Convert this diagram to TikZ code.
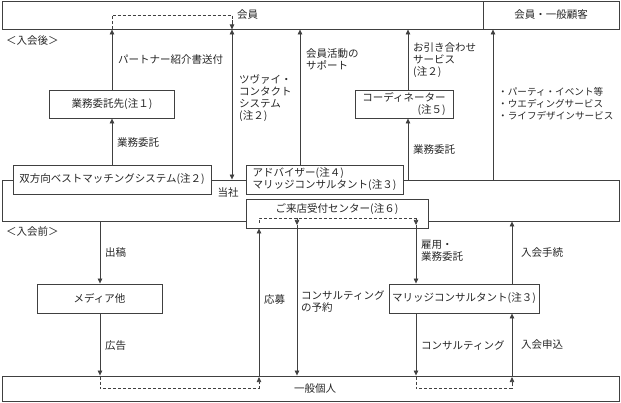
\documentclass[tikz,border=0pt]{standalone}
\usepackage{fontspec}
\newfontfamily\jp{Noto Sans CJK JP}
\usetikzlibrary{arrows.meta,calc}
\begin{document}
\begin{tikzpicture}[x=1pt,y=-1pt,
  every node/.style={font=\jp\fontsize{10.5}{12}\selectfont, text=black!85, inner sep=0pt},
  box/.style={draw=black!75, line width=0.9pt, fill=white},
  band/.style={draw=black!75, line width=0.9pt},
  arr/.style={draw=black!75, line width=0.7pt, -{Triangle[length=5pt,width=4.5pt]}},
  darr/.style={draw=black!75, line width=0.7pt, {Triangle[length=5pt,width=4.5pt]}-{Triangle[length=5pt,width=4.5pt]}},
  dashline/.style={draw=black!75, line width=0.7pt, dash pattern=on 3pt off 2pt},
  lbl/.style={anchor=west, align=left}]
\useasboundingbox (0,0) rectangle (621,403);

% bands
\node[band, minimum width=617pt, minimum height=28pt] (kaiin) at (310.5,15) {};
\node[band, minimum width=136pt, minimum height=28pt] (kokyaku) at (551,15) {会員・一般顧客};
\node[anchor=west] (kaiinlbl) at (237,15) {会員};
\node[band, minimum width=617pt, minimum height=41pt] (tousha) at (310.5,200.5) {};
\node[band, minimum width=617pt, minimum height=25pt] (kojin) at (310.5,388.5) {};
\node (kojinlbl) at (315,389) {一般個人};

% x positions
\coordinate (x100) at (100,0);
\coordinate (x232) at (232,0);
\coordinate (x259) at (259,0);
\coordinate (x297) at (297,0);
\coordinate (x300) at (300,0);
\coordinate (x408) at (408,0);
\coordinate (x416) at (416,0);
\coordinate (x493) at (493,0);
\coordinate (x512) at (512,0);
\coordinate (dl) at (0,218);

% boxes
\node[box, minimum width=125pt, minimum height=28pt] (itaku) at (112,104) {業務委託先(注１)};
\node[box, minimum width=198pt, minimum height=29pt] (sohoko) at (112,179.5) {双方向ベストマッチングシステム(注２)};
\node[box, minimum width=157pt, minimum height=29pt, align=left] (advisor) at (324.5,179.5) {アドバイザー(注４)\\マリッジコンサルタント(注３)};
\node[box, minimum width=182pt, minimum height=29pt] (raiten) at (337,213.5) {};
\node (raitenlbl) at (337,209.5) {ご来店受付センター(注６)};
\node[box, minimum width=98pt, minimum height=28pt, align=right] (coord) at (404,104) {コーディネーター\\(注５)};
\node[box, minimum width=125pt, minimum height=29pt] (media) at (99.5,298.5) {メディア他};
\node[box, minimum width=150pt, minimum height=29pt] (marriage) at (464,298.5) {マリッジコンサルタント(注３)};

% labels
\node[lbl] (after) at (6,41) {＜入会後＞};
\node[lbl] (before) at (6,232) {＜入会前＞};
\node (toushalbl) at (228,193) {当社};
\node[lbl] (l1) at (118,60) {パートナー紹介書送付};
\node[lbl] (l2) at (117,143) {業務委託};
\node[lbl] (l3) at (239,98) {ツヴァイ・\\コンタクト\\システム\\(注２)};
\node[lbl] (l4) at (306,59) {会員活動の\\サポート};
\node[lbl] (l5) at (413,60) {お引き合わせ\\サービス\\(注２)};
\node[lbl] (l6) at (413,150) {業務委託};
\node[lbl, font=\jp\fontsize{9.6}{12.2}\selectfont] (l7) at (498,104) {・パーティ・イベント等\\・ウエディングサービス\\・ライフデザインサービス};
\node[lbl] (l8) at (105,253) {出稿};
\node[lbl] (l9) at (105,346) {広告};
\node[lbl] (l10) at (264,300) {応募};
\node[lbl] (l11) at (301,302) {コンサルティング\\の予約};
\node[lbl] (l12) at (421,251) {雇用・\\業務委託};
\node[lbl] (l13) at (521,253) {入会手続};
\node[lbl] (l14) at (421,345) {コンサルティング};
\node[lbl] (l15) at (521,345) {入会申込};

% upper arrows
\draw[arr] (sohoko.north) -- (itaku.south);
\draw[arr] (itaku.north) -- (itaku.north |- kaiin.south);
\draw[dashline] (itaku.north |- kaiin.south) -- (itaku.north |- kaiinlbl.west) -- (x232 |- kaiinlbl.west) -- ++(0,6);
\draw[arr] ($(x232 |- kaiinlbl.west)+(0,5)$) -- (x232 |- kaiin.south);
\draw[darr] (x232 |- kaiin.south) -- (x232 |- tousha.north);
\draw[arr] (x300 |- advisor.north) -- (x300 |- kaiin.south);
\draw[arr] (x408 |- tousha.north) -- (x408 |- coord.south);
\draw[arr] (x408 |- coord.north) -- (x408 |- kaiin.south);
\draw[arr] (x493 |- tousha.north) -- (x493 |- kaiin.south);

% lower arrows
\draw[arr] (x100 |- tousha.south) -- (x100 |- media.north);
\draw[arr] (x100 |- media.south) -- (x100 |- kojin.north);
\draw[dashline] ($(x100 |- kojin.north)+(0,1)$) -- (x100 |- kojin.center) -- (x259 |- kojin.center) -- ++(0,-6);
\draw[arr] ($(x259 |- kojin.center)+(0,-5)$) -- ($(x259 |- kojin.north)+(0,1.5)$);
\draw[arr] (x259 |- kojin.north) -- (x259 |- raiten.south);
\draw[dashline] ($(x259 |- dl)+(0,5)$) -- (x259 |- dl) -- (x416 |- dl);
\draw[arr] (x297 |- dl) -- ++(0,7);
\draw[arr] ($(x297 |- dl)+(0,7)$) -- (x297 |- kojin.north);
\draw[arr] (x416 |- dl) -- ++(0,7);
\draw[arr] ($(x416 |- dl)+(0,7)$) -- (x416 |- marriage.north);
\draw[arr] (x416 |- marriage.south) -- (x416 |- kojin.north);
\draw[dashline] ($(x416 |- kojin.north)+(0,1)$) -- (x416 |- kojin.center) -- (x512 |- kojin.center) -- ++(0,-6);
\draw[arr] ($(x512 |- kojin.center)+(0,-5)$) -- ($(x512 |- kojin.north)+(0,1.5)$);
\draw[arr] (x512 |- kojin.north) -- (x512 |- marriage.south);
\draw[arr] (x512 |- marriage.north) -- (x512 |- tousha.south);
\end{tikzpicture}
\end{document}
